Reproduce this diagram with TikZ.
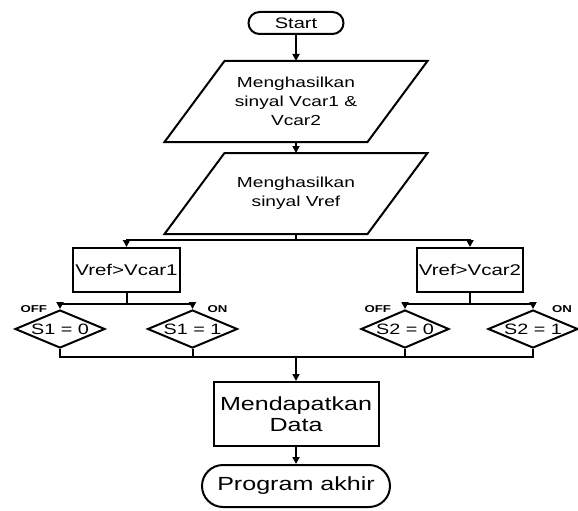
\documentclass[tikz,border=0pt]{standalone}
\usepackage{fontspec}
\setmainfont{Liberation Sans}[FakeStretch=1.32]
\usetikzlibrary{shapes.geometric,arrows.meta,calc}

\begin{document}
\begin{tikzpicture}[x=1pt,y=-1pt,
  line width=2pt,
  flow/.style={-{Triangle[length=7pt,width=7pt]}},
  terminal/.style={draw, rounded corners=#1, inner sep=0pt},
  procbox/.style={draw, inner sep=0pt, align=center},
  iobox/.style={inner sep=0pt, minimum width=201pt, minimum height=79pt,
    align=center, font=\fontsize{14.5}{19}\selectfont},
  decision/.style={draw, diamond, inner sep=0pt, shape aspect=2.37,
    minimum width=90pt, minimum height=38pt, font=\fontsize{15}{18}\selectfont},
  tag/.style={inner sep=0pt, font=\fontsize{10}{12}\selectfont\bfseries},
]
\useasboundingbox (0,0) rectangle (578,511);

% start / end terminals
\node[terminal=11, minimum width=95pt, minimum height=22pt,
  font=\fontsize{15.2}{18}\selectfont] (start) at (296,23) {Start};

% input/output parallelograms (text node + slanted outline)
\node[iobox] (in1) at (296,101.5) {Menghasilkan\\sinyal Vcar1 \&\\Vcar2};
\draw ([xshift=30pt]in1.north west) -- ([xshift=30pt]in1.north east)
  -- ([xshift=-30pt]in1.south east) -- ([xshift=-30pt]in1.south west) -- cycle;

\node[iobox] (in2) at (296,193.5) {Menghasilkan\\sinyal Vref};
\draw ([xshift=30pt]in2.north west) -- ([xshift=30pt]in2.north east)
  -- ([xshift=-30pt]in2.south east) -- ([xshift=-30pt]in2.south west) -- cycle;

% comparisons
\node[procbox, minimum width=107pt, minimum height=44pt,
  font=\fontsize{15.5}{18}\selectfont] (c1) at (126.5,270) {Vref>Vcar1};
\node[procbox, minimum width=106pt, minimum height=44pt,
  font=\fontsize{15.5}{18}\selectfont] (c2) at (470,270) {Vref>Vcar2};

% switch states
\node[decision] (s10) at (60,329) {S1 = 0};
\node[decision] (s11) at (192.5,329) {S1 = 1};
\node[decision, minimum width=88pt] (s20) at (405,329) {S2 = 0};
\node[decision] (s21) at (533,329) {S2 = 1};

\node[tag, anchor=east] (off1) at ([xshift=-12pt]s10.north) {OFF};
\node[tag, anchor=west] (on1) at ([xshift=14pt]s11.north) {ON};
\node[tag, anchor=east] (off2) at ([xshift=-13pt]s20.north) {OFF};
\node[tag, anchor=west] (on2) at ([xshift=18pt]s21.north) {ON};

% data and end
\node[procbox, minimum width=165pt, minimum height=64pt,
  font=\fontsize{19}{21}\selectfont] (data) at (296,414) {Mendapatkan\\Data};
\node[terminal=21, minimum width=188pt, minimum height=42pt,
  font=\fontsize{19}{22}\selectfont] (stop) at (296,486) {Program akhir};

% connectors
\draw[flow] (start.south) -- (in1.north);
\draw[flow] (in1.south) -- (in2.north);
\draw (in2.south) -- ++(0,6) coordinate (fork);
\draw[flow] (fork) -| (c1.north);
\draw[flow] (fork) -| (c2.north);

\draw (c1.south) -- ++(0,11) coordinate (fork1);
\draw[flow] (fork1) -| (s10.north);
\draw[flow] (fork1) -| (s11.north);
\draw (c2.south) -- ++(0,11) coordinate (fork2);
\draw[flow] (fork2) -| (s20.north);
\draw[flow] (fork2) -| (s21.north);

\draw (s10.south) -- ++(0,8) coordinate (join) -| (s21.south);
\draw (s11.south) -- (s11.south |- join);
\draw (s20.south) -- (s20.south |- join);
\draw[flow] (join -| data.north) -- (data.north);
\draw[flow] (data.south) -- (stop.north);
\end{tikzpicture}
\end{document}
